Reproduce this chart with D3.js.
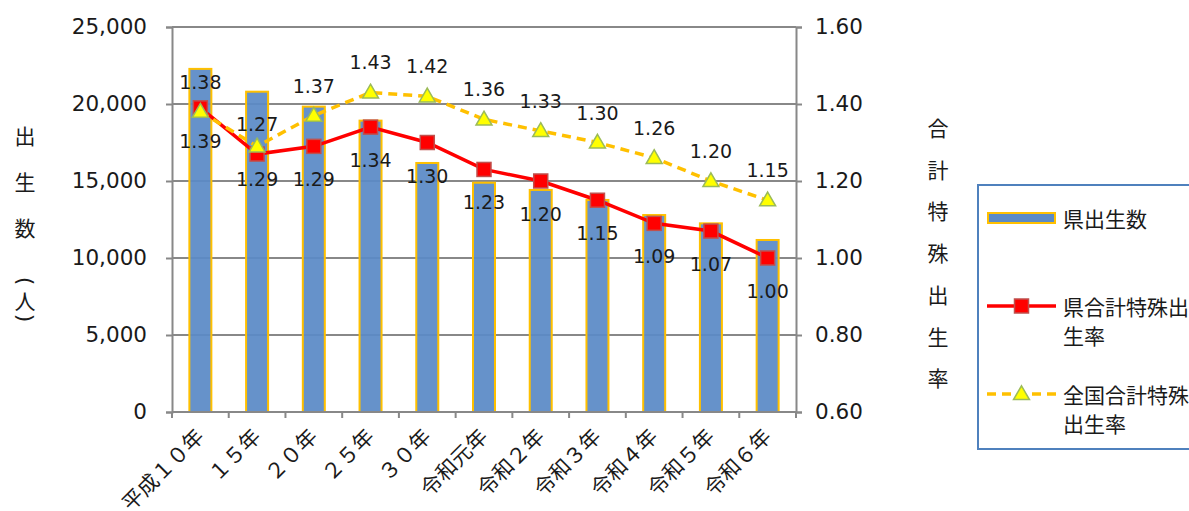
<!DOCTYPE html>
<html lang="ja">
<head>
<meta charset="UTF-8">
<title>出生数と合計特殊出生率</title>
<script src="https://d3js.org/d3.v7.min.js"></script>
<style>
  body { margin: 0; background: #fff; }
  svg { display: block; }
  .num { font-family: "DejaVu Sans", "Noto Sans CJK JP", sans-serif; fill: #1a1a1a; }
  .jp { font-family: "Noto Sans CJK JP", sans-serif; fill: #1a1a1a; }
</style>
</head>
<body>
<div id="chart"></div>
<script>
// --- data ---
const categories = ["平成１０年", "１５年", "２０年", "２５年", "３０年", "令和元年", "令和２年", "令和３年", "令和４年", "令和５年", "令和６年"];
const births = [22280, 20800, 19830, 18920, 16170, 14890, 14420, 13770, 12790, 12250, 11170];
const prefRate = [1.39, 1.27, 1.29, 1.34, 1.30, 1.23, 1.20, 1.15, 1.09, 1.07, 1.00];
const natRate = [1.38, 1.29, 1.37, 1.43, 1.42, 1.36, 1.33, 1.30, 1.26, 1.20, 1.15];
// data labels as printed on the chart (15年 labels are crossed in the original)
const prefLabels = [1.39, 1.29, 1.29, 1.34, 1.30, 1.23, 1.20, 1.15, 1.09, 1.07, 1.00];
const natLabels = [1.38, 1.27, 1.37, 1.43, 1.42, 1.36, 1.33, 1.30, 1.26, 1.20, 1.15];
const leftTicks = [0, 5000, 10000, 15000, 20000, 25000];
const rightTicks = [0.6, 0.8, 1.0, 1.2, 1.4, 1.6];
const leftTitle = ["出", "生", "数", "(", "人", ")"];
const rightTitle = ["合", "計", "特", "殊", "出", "生", "率"];

const W = 1189, H = 511;
const plot = {left: 172, right: 796, top: 27, bottom: 412};

const svg = d3.select("#chart").append("svg")
    .attr("width", W).attr("height", H);

const x = d3.scaleBand().domain(categories).range([plot.left, plot.right]);
const yL = d3.scaleLinear().domain([0, 25000]).range([plot.bottom, plot.top]);
const yR = d3.scaleLinear().domain([0.6, 1.6]).range([plot.bottom, plot.top]);
const cx = d => x(d) + x.bandwidth() / 2;

const gridColor = "#888";

// gridlines
svg.append("g").selectAll("line")
    .data(leftTicks.slice(1))
    .enter().append("line")
    .attr("x1", plot.left).attr("x2", plot.right)
    .attr("y1", d => yL(d)).attr("y2", d => yL(d))
    .attr("stroke", gridColor).attr("stroke-width", 2);

// bars
const barW = 22;
svg.append("g").selectAll("rect")
    .data(births)
    .enter().append("rect")
    .attr("x", (d, i) => cx(categories[i]) - barW / 2)
    .attr("y", d => yL(d))
    .attr("width", barW)
    .attr("height", d => plot.bottom - yL(d))
    .attr("fill", "#5a8ac6")
    .attr("fill-opacity", 0.93)
    .attr("stroke", "#ffc000")
    .attr("stroke-width", 2);

// axes
const leftAxis = svg.append("g")
    .attr("transform", `translate(${plot.left},0)`)
    .call(d3.axisLeft(yL).tickValues(leftTicks).tickFormat(d3.format(",")).tickSize(6).tickPadding(19));
const rightAxis = svg.append("g")
    .attr("transform", `translate(${plot.right},0)`)
    .call(d3.axisRight(yR).tickValues(rightTicks).tickFormat(d3.format(".2f")).tickSize(6).tickPadding(13));
[leftAxis, rightAxis].forEach(a => {
    a.select(".domain").attr("stroke", gridColor).attr("stroke-width", 2);
    a.selectAll(".tick line").attr("stroke", gridColor).attr("stroke-width", 2);
    a.selectAll(".tick text").attr("class", "num").attr("font-size", 21.5).attr("fill", "#1a1a1a");
    a.attr("font-family", null).attr("font-size", null);
});

// bottom axis with ticks between categories
svg.append("line")
    .attr("x1", plot.left).attr("x2", plot.right)
    .attr("y1", plot.bottom).attr("y2", plot.bottom)
    .attr("stroke", gridColor).attr("stroke-width", 2);
svg.append("g").selectAll("line")
    .data(categories.map(c => x(c)).concat([plot.right]))
    .enter().append("line")
    .attr("x1", d => d).attr("x2", d => d)
    .attr("y1", plot.bottom).attr("y2", plot.bottom + 6)
    .attr("stroke", gridColor).attr("stroke-width", 2);
svg.append("g").selectAll("text")
    .data(categories)
    .enter().append("text")
    .attr("class", "jp")
    .attr("font-size", 21)
    .attr("text-anchor", "end")
    .attr("transform", d => `translate(${cx(d) + 5},${plot.bottom + 26}) rotate(-45)`)
    .text(d => d);

// prefecture TFR line
const rateLine = d3.line().x((d, i) => cx(categories[i])).y(d => yR(d));
svg.append("path")
    .datum(prefRate)
    .attr("d", rateLine)
    .attr("fill", "none")
    .attr("stroke", "#ff0000")
    .attr("stroke-width", 3.5);

// national TFR line
svg.append("path")
    .datum(natRate)
    .attr("d", rateLine)
    .attr("fill", "none")
    .attr("stroke", "#ffc000")
    .attr("stroke-width", 3.5)
    .attr("stroke-dasharray", "9,6");

// markers
const sq = 14;
svg.append("g").selectAll("rect")
    .data(prefRate)
    .enter().append("rect")
    .attr("x", (d, i) => cx(categories[i]) - sq / 2)
    .attr("y", d => yR(d) - sq / 2)
    .attr("width", sq).attr("height", sq)
    .attr("fill", "#ff0000")
    .attr("stroke", "#c0504d")
    .attr("stroke-width", 1.5);

const tri = d3.symbol().type(d3.symbolTriangle).size(110);
svg.append("g").selectAll("path")
    .data(natRate)
    .enter().append("path")
    .attr("d", tri)
    .attr("transform", (d, i) => `translate(${cx(categories[i])},${yR(d) + 1})`)
    .attr("fill", "#ffff00")
    .attr("stroke", "#9bbb59")
    .attr("stroke-width", 1.5);

// data labels
svg.append("g").selectAll("text")
    .data(natLabels)
    .enter().append("text")
    .attr("class", "num")
    .attr("font-size", 19)
    .attr("text-anchor", "middle")
    .attr("dominant-baseline", "central")
    .attr("x", (d, i) => cx(categories[i]))
    .attr("y", d => yR(d) - 30)
    .text(d => d.toFixed(2));
svg.append("g").selectAll("text")
    .data(prefLabels)
    .enter().append("text")
    .attr("class", "num")
    .attr("font-size", 19)
    .attr("text-anchor", "middle")
    .attr("dominant-baseline", "central")
    .attr("x", (d, i) => cx(categories[i]))
    .attr("y", d => yR(d) + 33)
    .text(d => d.toFixed(2));

// axis titles (vertical, one character per line; brackets turned sideways)
const leftTitleY = [135, 181, 227, 281, 300, 318];
svg.append("g").selectAll("text")
    .data(leftTitle)
    .enter().append("text")
    .attr("class", (d) => (d === "(" || d === ")") ? "num" : "jp")
    .attr("font-size", (d) => (d === "(" || d === ")") ? 22 : 21)
    .attr("text-anchor", "middle")
    .attr("dominant-baseline", "central")
    .attr("transform", (d, i) => `translate(25,${leftTitleY[i]})` + ((d === "(" || d === ")") ? " rotate(90)" : ""))
    .text(d => d);
svg.append("g").selectAll("text")
    .data(rightTitle)
    .enter().append("text")
    .attr("class", "jp")
    .attr("font-size", 21)
    .attr("text-anchor", "middle")
    .attr("dominant-baseline", "central")
    .attr("x", 938)
    .attr("y", (d, i) => 127 + i * 41.7)
    .text(d => d);

// legend
const legend = svg.append("g");
legend.append("rect")
    .attr("x", 978).attr("y", 185)
    .attr("width", 240).attr("height", 264)
    .attr("fill", "#fff")
    .attr("stroke", "#4f81bd").attr("stroke-width", 2);

legend.append("rect")
    .attr("x", 988).attr("y", 213)
    .attr("width", 67).attr("height", 10)
    .attr("fill", "#5a8ac6")
    .attr("stroke", "#ffc000").attr("stroke-width", 2);

legend.append("line")
    .attr("x1", 987).attr("x2", 1056)
    .attr("y1", 306).attr("y2", 306)
    .attr("stroke", "#ff0000").attr("stroke-width", 3.5);
legend.append("rect")
    .attr("x", 1021.5 - sq / 2).attr("y", 306 - sq / 2)
    .attr("width", sq).attr("height", sq)
    .attr("fill", "#ff0000").attr("stroke", "#c0504d").attr("stroke-width", 1.5);

legend.append("line")
    .attr("x1", 987).attr("x2", 1056)
    .attr("y1", 394).attr("y2", 394)
    .attr("stroke", "#ffc000").attr("stroke-width", 3.5)
    .attr("stroke-dasharray", "9,6");
legend.append("path")
    .attr("d", tri)
    .attr("transform", "translate(1021.5,395)")
    .attr("fill", "#ffff00").attr("stroke", "#9bbb59").attr("stroke-width", 1.5);

const legendText = [
    {lines: ["県出生数"], y: 218},
    {lines: ["県合計特殊出", "生率"], y: 306},
    {lines: ["全国合計特殊", "出生率"], y: 394}
];
legendText.forEach(item => {
    item.lines.forEach((t, j) => {
        legend.append("text")
            .attr("class", "jp")
            .attr("font-size", 21)
            .attr("dominant-baseline", "central")
            .attr("x", 1063)
            .attr("y", item.y + j * 29)
            .text(t);
    });
});
</script>
</body>
</html>
